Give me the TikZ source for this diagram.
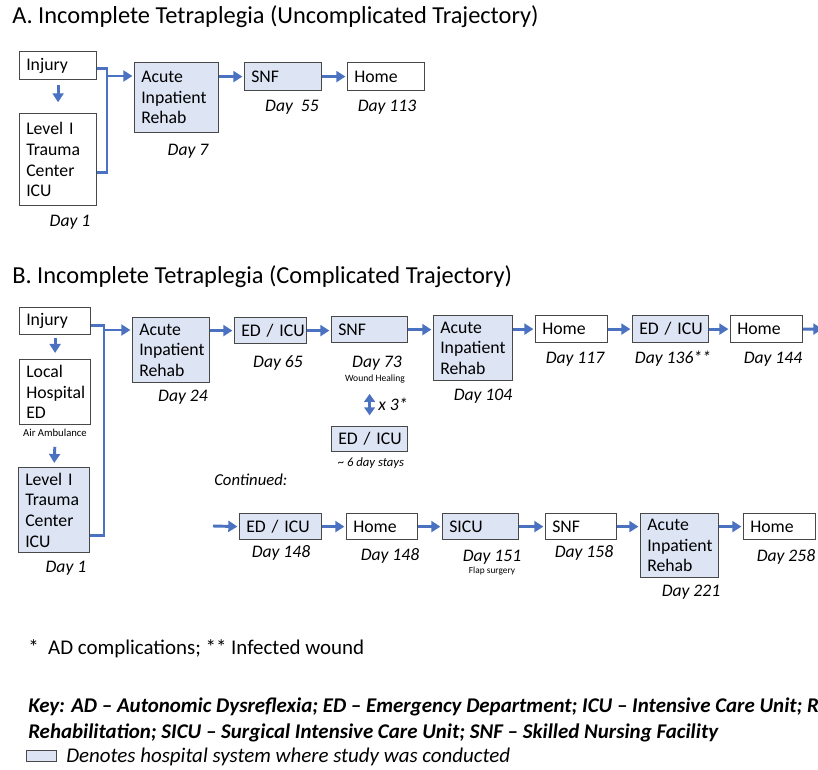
\documentclass[tikz,border=0pt]{standalone}
\usepackage{fontspec}
\setmainfont{Carlito}
\usetikzlibrary{arrows.meta, positioning, calc}

\definecolor{flowblue}{HTML}{4A72C0}
\definecolor{sitefill}{HTML}{DDE4F4}
\definecolor{edgegray}{HTML}{484848}

\newcommand\boxfont{\fontsize{13.3}{15.5}\selectfont}
\newcommand\dayfont{\fontsize{13.2}{15}\selectfont\itshape}
\newcommand\notefont{\fontsize{8}{9}\selectfont}
\newcommand\keyfont{\fontsize{15.7}{18}\selectfont}

\tikzset{
  %% stay in the study hospital system (width, height in px)
  stay/.style 2 args={
    rectangle, draw=edgegray, fill=sitefill, line width=0.9pt,
    anchor=north west, align=left, font=\boxfont,
    inner xsep=5pt, inner ysep=0pt,
    minimum width=#1*0.75pt, minimum height=#2*0.75pt,
    text width=#1*0.75pt-10pt
  },
  %% stay outside the study system
  ext/.style 2 args={stay={#1}{#2}, fill=white},
  %% arrows
  flow/.style={-{Triangle[length=6.8pt,width=8.2pt]},
               draw=flowblue, line width=2.2pt, shorten >=1.2pt},
  link/.style={draw=flowblue, line width=2.2pt},
  dual/.style={{Triangle[length=6pt,width=8pt]}-{Triangle[length=6pt,width=8pt]},
               draw=flowblue, line width=2.2pt},
  day/.style={font=\dayfont},
  note/.style={font=\notefont},
  head/.style={anchor=base west, inner sep=0pt, font=\fontsize{18.3}{22}\selectfont},
  keyline/.style={anchor=base west, inner sep=0pt, font=\keyfont#1},
  keyline/.default={},
}

\begin{document}
\begin{tikzpicture}[x=0.75pt, y=-0.75pt]
  \useasboundingbox (0,0) rectangle (818,770);

  %% A. uncomplicated trajectory
  \node[head] (tA) at (12,24) {A. Incomplete Tetraplegia (Uncomplicated Trajectory)};

  \node[ext={77}{28}]  (inA) at (19,51)  {Injury};
  \node[ext={77}{92}]  (lvA) at (19,113) {Level I\\Trauma\\Center\\ICU};
  \node[stay={84}{70}] (acA) at (134,62) {Acute\\Inpatient\\Rehab};
  \node[stay={77}{28}] (snA) at (244,62) {SNF};
  \node[ext={77}{28}]  (hmA) at (347,62) {Home};

  \node[day] (dA1) at (70,222)  {Day 1};
  \node[day] (dA2) at (188,151) {Day 7};
  \node[day] (dA3) at (292,107) {Day \ 55};
  \node[day] (dA4) at (387,107) {Day 113};

  \coordinate (jA) at (107,76);
  \draw[flow, shorten <=3.5pt, shorten >=8pt] (inA.south) -- (lvA.north);
  \draw[link] ([yshift=-2.25pt]inA.east) -| (jA) |- ([yshift=-9.75pt]lvA.east);
  \draw[flow] (jA) -- (acA.west |- jA);
  \draw[flow] (acA.east |- snA.west) -- (snA.west);
  \draw[flow] (snA.east) -- (hmA.west);

  %% B. complicated trajectory
  \node[head] (tB) at (12,283) {B. Incomplete Tetraplegia (Complicated Trajectory)};

  \node[ext={71}{27}]  (inB) at (19,307) {Injury};
  \node[ext={71}{65}]  (lhB) at (19,359) {Local\\Hospital\\ED};
  \node[note] (air) at (55,433) {Air Ambulance};
  \node[stay={71}{85}] (lvB) at (18,467) {Level I\\Trauma\\Center\\ICU};
  \node[day] (dB1) at (66,568) {Day 1};

  \node[stay={77}{65}] (acB1) at (132,317) {Acute\\Inpatient\\Rehab};
  \node[stay={72}{26}] (edB1) at (234,317) {ED~/~ICU};
  \node[stay={76}{26}] (snB)  at (331,316) {SNF};
  \node[stay={76}{25}] (edB2) at (331,426) {ED~/~ICU};
  \node[stay={79}{65}] (acB2) at (433,315) {Acute\\Inpatient\\Rehab};
  \node[ext={72}{27}]  (hmB1) at (535,315) {Home};
  \node[stay={76}{27}] (edB3) at (632,315) {ED~/~ICU};
  \node[ext={72}{27}]  (hmB2) at (730,315) {Home};

  \node[day] (dB2) at (183,397) {Day 24};
  \node[day] (dB3) at (278,363) {Day 65};
  \node[day] (dB4) at (377,363) {Day 73};
  \node[font=\fontsize{7.2}{8}\selectfont] (wh) at (375,379) {Wound Healing};
  \node[day, anchor=west, inner sep=0pt] (rep) at (378,404) {x 3*};
  \node[font=\fontsize{9.5}{11}\selectfont\itshape] (stays) at (371,463) {\textasciitilde\ 6 day stays};
  \node[day] (dB5) at (483,396) {Day 104};
  \node[day] (dB6) at (575,359) {Day 117};
  \node[day] (dB7) at (673,359) {Day 136**};
  \node[day] (dB8) at (773,359) {Day 144};

  \coordinate (jB) at (104,330);
  \coordinate (outB) at (824,329);
  \draw[flow, shorten <=2pt, shorten >=4.5pt] (inB.south) -- (lhB.north);
  \draw[flow, shorten <=4pt, shorten >=3pt] (air.south) -- (lvB.north);
  \draw[link] ([yshift=-3pt]inB.east) -| (jB) |- ([yshift=-19pt]lvB.east);
  \draw[flow] (jB) -- (acB1.west |- jB);
  \draw[flow] (acB1.east |- edB1.west) -- (edB1.west);
  \draw[flow] (edB1.east) -- (edB1.east -| snB.west);
  \draw[flow] (snB.east) -- (snB.east -| acB2.west);
  \draw[flow] (acB2.east |- hmB1.west) -- (hmB1.west);
  \draw[flow] (hmB1.east) -- (edB3.west);
  \draw[flow] (edB3.east) -- (hmB2.west);
  \draw[flow] (hmB2.east) -- (outB);
  \draw[dual, shorten <=4.5pt, shorten >=8pt] (edB2.north |- wh.south) -- (edB2.north);

  %% continued row
  \node[anchor=west, inner sep=0pt, font=\fontsize{12.5}{15}\selectfont\itshape] (cont) at (214,480) {Continued:};

  \node[stay={82}{26}] (edC)  at (239,513) {ED~/~ICU};
  \node[ext={71}{26}]  (hmC1) at (346,513) {Home};
  \node[stay={76}{26}] (sicu) at (442,513) {SICU};
  \node[ext={71}{26}]  (snC)  at (545,513) {SNF};
  \node[stay={78}{64}] (acC)  at (640,513) {Acute\\Inpatient\\Rehab};
  \node[ext={72}{26}]  (hmC2) at (743,513) {Home};

  \node[day] (dC1) at (281,553) {Day 148};
  \node[day] (dC2) at (390,556) {Day 148};
  \node[day] (dC3) at (492,557) {Day 151};
  \node[font=\fontsize{7}{8}\selectfont] (flap) at (492,571) {Flap surgery};
  \node[day] (dC4) at (584,553) {Day 158};
  \node[day] (dC5) at (691,592) {Day 221};
  \node[day] (dC6) at (786,557) {Day 258};

  \coordinate (inC) at (213,526);
  \draw[flow] (inC) -- (edC.west);
  \draw[flow] (edC.east) -- (hmC1.west);
  \draw[flow] (hmC1.east) -- (sicu.west);
  \draw[flow] (sicu.east) -- (snC.west);
  \draw[flow] (snC.east) -- (snC.east -| acC.west);
  \draw[flow] (acC.east |- hmC2.west) -- (hmC2.west);

  %% notes and key
  \node[keyline] (fn) at (28,654) {*\ \ AD complications; ** Infected wound};
  \node[keyline=\bfseries\itshape] (key1) at (28,712)
       {Key: AD -- Autonomic Dysreflexia; ED -- Emergency Department; ICU -- Intensive Care Unit; R};
  \node[keyline=\bfseries\itshape] (key2) at (28,738)
       {Rehabilitation; SICU -- Surgical Intensive Care Unit; SNF -- Skilled Nursing Facility};
  \node[stay={30}{11}] (lgd) at (26,750) {};
  \node[keyline=\itshape] (lgdtext) at (66,762)
       {Denotes hospital system where study was conducted};
\end{tikzpicture}
\end{document}
